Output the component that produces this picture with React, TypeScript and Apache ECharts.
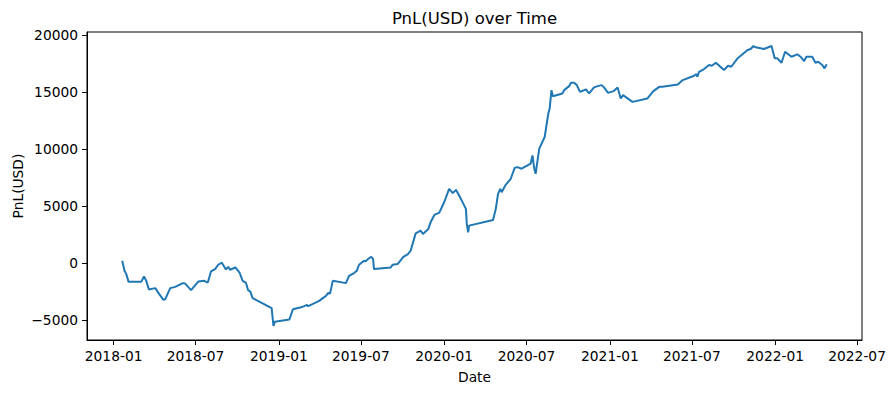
import React, { useEffect, useRef } from "react";
import * as echarts from "echarts";

const dates2018 = ['2018-01-20','2018-01-25','2018-01-29','2018-02-03','2018-03-03','2018-03-09','2018-03-14','2018-03-20','2018-04-03','2018-04-11','2018-04-21','2018-04-25','2018-05-06','2018-05-17','2018-06-03','2018-06-08','2018-06-21','2018-07-07','2018-07-20','2018-07-28','2018-08-04','2018-08-13','2018-08-20','2018-08-28','2018-09-06','2018-09-11','2018-09-15','2018-09-27','2018-10-06','2018-10-13','2018-10-20','2018-10-25','2018-10-30','2018-11-04','2018-12-16','2018-12-20','2018-12-23'];
const values2018 = [200,-680,-970,-1650,-1650,-1180,-1560,-2320,-2200,-2680,-3230,-3170,-2200,-2090,-1760,-1800,-2380,-1620,-1560,-1710,-740,-530,-150,30,-560,-330,-590,-390,-830,-1560,-1710,-2380,-2500,-3080,-3960,-5520,-5140];

const dates2019 = ['2019-01-24','2019-02-01','2019-02-19','2019-02-26','2019-03-04','2019-03-07','2019-03-31','2019-04-08','2019-04-15','2019-04-20','2019-04-24','2019-04-30','2019-05-29','2019-06-05','2019-06-16','2019-06-22','2019-06-27','2019-07-08','2019-07-11','2019-07-17','2019-07-24','2019-07-28','2019-07-30','2019-09-05','2019-09-09','2019-09-20','2019-10-03','2019-10-13','2019-10-19','2019-10-30','2019-11-10','2019-11-15','2019-11-27','2019-12-02','2019-12-11','2019-12-21'];
const values2019 = [-4960,-4050,-3870,-3780,-3670,-3780,-3320,-3080,-2880,-2610,-2680,-1560,-1760,-1120,-880,-680,-150,200,140,350,550,350,-530,-390,-150,-90,550,790,1080,2600,2840,2550,2990,3570,4250,4400];

const dates2020 = ['2020-01-01','2020-01-12','2020-01-20','2020-01-27','2020-02-07','2020-02-18','2020-02-20','2020-02-23','2020-02-25','2020-04-18','2020-04-24','2020-04-29','2020-05-04','2020-05-07','2020-05-15','2020-05-27','2020-06-05','2020-06-11','2020-06-20','2020-07-10','2020-07-14','2020-07-18','2020-07-21','2020-07-29','2020-08-10','2020-08-18','2020-08-21','2020-08-25','2020-08-28','2020-09-18','2020-09-22','2020-10-03','2020-10-07','2020-10-14','2020-10-20','2020-10-27','2020-11-09','2020-11-16','2020-11-27','2020-12-05','2020-12-14','2020-12-19','2020-12-28'];
const values2020 = [5330,6510,6130,6420,5630,4750,3430,2690,3280,3780,4750,6070,6510,6210,6800,7390,8360,8410,8270,8710,9440,8270,7830,10030,11050,13110,13550,15160,14630,14870,15160,15510,15800,15800,15600,15010,15220,14870,15400,15510,15600,15400,14920];

const dates2021 = ['2021-01-09','2021-01-18','2021-01-25','2021-01-30','2021-02-20','2021-03-25','2021-04-07','2021-04-20','2021-04-27','2021-05-31','2021-06-11','2021-07-06','2021-07-11','2021-07-13','2021-07-17','2021-07-28','2021-08-08','2021-08-14','2021-08-23','2021-09-10','2021-09-19','2021-09-26','2021-10-10','2021-10-21','2021-11-01','2021-11-08','2021-11-14','2021-11-19','2021-12-07','2021-12-24','2021-12-31'];
const values2021 = [15070,15400,14430,14720,14130,14430,15070,15450,15450,15660,16040,16420,16570,16330,16770,17010,17360,17300,17560,16920,17300,17210,17950,18300,18680,18770,19030,18920,18770,19030,17950];

const dates2022 = ['2022-01-06','2022-01-15','2022-01-23','2022-02-06','2022-02-19','2022-02-26','2022-03-06','2022-03-11','2022-03-24','2022-03-31','2022-04-06','2022-04-15','2022-04-20','2022-04-25'];
const values2022 = [17950,17560,18530,18090,18300,18090,17710,18090,18090,17560,17650,17360,17070,17420];

const xTickLabels = ['2018-01','2018-07','2019-01','2019-07','2020-01','2020-07','2021-01','2021-07','2022-01','2022-07'];
const yTickValues = [-5000, 0, 5000, 10000, 15000, 20000];

const toTs = (s: string) => {
  const p = s.split('-').map(Number);
  return Date.UTC(p[0], p[1] - 1, p[2] || 1);
};

export default function App() {
  const ref = useRef<HTMLDivElement>(null);
  useEffect(() => {
    if (!ref.current) return;
    const chart = echarts.init(ref.current, undefined, { renderer: "svg" });
    const dates = [...dates2018, ...dates2019, ...dates2020, ...dates2021, ...dates2022];
    const values = [...values2018, ...values2019, ...values2020, ...values2021, ...values2022];
    const data = dates.map((d, i) => [toTs(d), values[i]]);
    const xs = data.map((d) => d[0]);
    const xMin0 = Math.min(...xs), xMax0 = Math.max(...xs);
    const xSpan = xMax0 - xMin0;
    const yMin0 = Math.min(...values), yMax0 = Math.max(...values);
    const ySpan = yMax0 - yMin0;
    const font = "DejaVu Sans";
    const left = 87, right = 29, top = 32, bottom = 53;
    const cx = left + (891 - left - right) / 2;
    const cy = top + (393 - top - bottom) / 2;
    const xTicks = xTickLabels.map(toTs);
    chart.setOption({
      animation: false,
      backgroundColor: "#ffffff",
      textStyle: { fontFamily: font },
      grid: { left, right, top, bottom, show: true, borderColor: "#000", borderWidth: 1, containLabel: false, outerBoundsMode: "none" },
      xAxis: {
        type: "value",
        min: xMin0 - 0.05 * xSpan,
        max: xMax0 + 0.05 * xSpan,
        axisLine: { show: true, onZero: false, lineStyle: { color: "#000", width: 1 } },
        axisTick: { show: true, length: 5, lineStyle: { color: "#000" }, customValues: xTicks },
        axisLabel: {
          color: "#000", fontSize: 13.8, fontFamily: font, margin: 9,
          customValues: xTicks,
          formatter: (v: number) => {
            const d = new Date(v);
            return d.getUTCFullYear() + "-" + String(d.getUTCMonth() + 1).padStart(2, "0");
          },
        },
        splitLine: { show: false },
      },
      yAxis: {
        type: "value",
        min: yMin0 - 0.05 * ySpan,
        max: yMax0 + 0.05 * ySpan,
        axisLine: { show: true, onZero: false, lineStyle: { color: "#000", width: 1 } },
        axisTick: { show: true, length: 5, lineStyle: { color: "#000" }, customValues: yTickValues },
        axisLabel: {
          color: "#000", fontSize: 13.8, fontFamily: font, margin: 9,
          customValues: yTickValues,
          formatter: (v: number) => (v < 0 ? "\u2212" + Math.abs(v) : String(v)),
        },
        splitLine: { show: false },
      },
      series: [
        {
          type: "line",
          data,
          showSymbol: false,
          symbol: "none",
          lineStyle: { color: "#1f77b4", width: 2 },
          itemStyle: { color: "#1f77b4" },
        },
      ],
      graphic: [
        { type: "text", x: cx, y: 18, style: { text: "PnL(USD) over Time", fontFamily: font, fontSize: 16.5, fill: "#000", align: "center", verticalAlign: "middle" } },
        { type: "text", x: cx, y: 377, style: { text: "Date", fontFamily: font, fontSize: 13.8, fill: "#000", align: "center", verticalAlign: "middle" } },
        { type: "text", x: 18, y: cy, rotation: Math.PI / 2, style: { text: "PnL(USD)", fontFamily: font, fontSize: 13.8, fill: "#000", align: "center", verticalAlign: "middle" } },
      ],
    });
    return () => chart.dispose();
  }, []);
  return <div ref={ref} style={{ position: "fixed", left: 0, top: 0, width: 891, height: 393, background: "#fff" }} />;
}
